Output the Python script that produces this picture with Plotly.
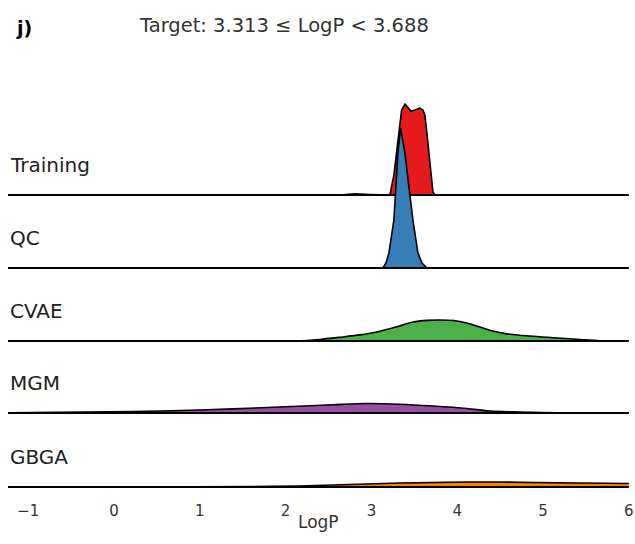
import plotly.graph_objects as go

# ---------------- data ----------------
rows = ["Training", "QC", "CVAE", "MGM", "GBGA"]
colors = ["#e41a1c", "#377eb8", "#4daf4a", "#984ea3", "#ff7f00"]

train_x = [2.633, 2.808, 2.983, 3.157, 3.216, 3.262, 3.297, 3.324, 3.352, 3.391, 3.426,
           3.461, 3.507, 3.565, 3.600, 3.623, 3.647, 3.670, 3.693, 3.717, 3.740]
train_d = [0.0, 0.045, 0.02, 0.0, 0.0, 0.75, 1.70, 2.53, 3.21, 3.43, 3.28,
           3.17, 3.21, 3.28, 3.21, 3.02, 2.34, 1.58, 0.75, 0.11, 0.0]

qc_x = [3.10, 3.134, 3.17, 3.204, 3.262, 3.286, 3.309, 3.340, 3.391, 3.437, 3.484, 3.542, 3.59, 3.647, 3.69]
qc_d = [0.0, 0.0, 0.19, 0.57, 1.81, 3.06, 4.34, 5.28, 4.34, 3.06, 1.81, 0.57, 0.19, 0.0, 0.0]

cvae_x = [2.05, 2.249, 2.40, 2.633, 2.866, 3.05, 3.297, 3.484, 3.647, 3.798, 3.961,
          4.113, 4.264, 4.416, 4.579, 4.730, 5.115, 5.429, 5.66, 5.9]
cvae_d = [0.0, 0.019, 0.057, 0.140, 0.230, 0.33, 0.540, 0.717, 0.780, 0.792, 0.774,
          0.679, 0.528, 0.377, 0.270, 0.215, 0.125, 0.057, 0.011, 0.0]

mgm_x = [-1.235, 0.221, 0.999, 1.783, 2.552, 2.948, 3.332, 3.717, 4.113, 4.381, 4.730, 5.196, 6.0]
mgm_d = [0.011, 0.057, 0.113, 0.208, 0.313, 0.358, 0.332, 0.264, 0.170, 0.075, 0.038, 0.011, 0.0]

gbga_x = [-1.235, 0.419, 1.585, 2.167, 2.552, 2.948, 3.332, 3.717, 4.113, 4.497, 4.882, 5.429, 6.0]
gbga_d = [0.0, 0.004, 0.019, 0.038, 0.075, 0.113, 0.151, 0.170, 0.189, 0.189, 0.170, 0.151, 0.132]

series_x = [train_x, qc_x, cvae_x, mgm_x, gbga_x]
series_d = [train_d, qc_d, cvae_d, mgm_d, gbga_d]
series_shape = ["linear", "linear", "spline", "spline", "spline"]

x_ticks = [-1, 0, 1, 2, 3, 4, 5, 6]
x_tick_text = ["\u22121", "0", "1", "2", "3", "4", "5", "6"]

title_text = "Target: 3.313 \u2264 LogP < 3.688"
panel_text = "<b>j)</b>"
x_title = "LogP"

# ---------------- layout constants ----------------
W, H = 635, 544
plot_l, plot_r, plot_t, plot_b = 8, 629, 60, 490
offsets = [11.019, 8.264, 5.509, 2.792, 0.0]
x_min, x_max = -1.235, 6.0
y_min, y_max = -0.1132, 16.113
font = "DejaVu Sans"


def paper(px, py):
    """picture pixel -> paper coords"""
    return (px - plot_l) / (plot_r - plot_l), (plot_b - py) / (plot_b - plot_t)


fig = go.Figure()
annotations = []
for name, col, xs, ds, off, shp in zip(rows, colors, series_x, series_d, offsets, series_shape):
    # invisible base for the fill
    fig.add_trace(go.Scatter(x=[xs[0], xs[-1]], y=[off, off], mode="lines",
                             line=dict(width=0, color=col),
                             hoverinfo="skip", showlegend=False))
    fig.add_trace(go.Scatter(x=list(xs), y=[off + d for d in ds], mode="lines",
                             fill="tonexty", fillcolor=col,
                             line=dict(color="black", width=1.6, shape=shp, smoothing=0.8),
                             hoverinfo="skip", showlegend=False))
    fig.add_trace(go.Scatter(x=[x_min, x_max], y=[off, off], mode="lines",
                             line=dict(color="black", width=2.2),
                             hoverinfo="skip", showlegend=False))
    annotations.append(dict(x=0, xref="paper", y=off + 1.13, yref="y", text=name,
                            showarrow=False, xanchor="left", yanchor="middle",
                            font=dict(family=font, size=20, color="#222")))

tx, ty = paper(284, 25)
annotations.append(dict(text=title_text, x=tx, y=ty, xref="paper", yref="paper",
                        showarrow=False, xanchor="center", yanchor="middle",
                        font=dict(family=font, size=19.5, color="#333")))
jx, jy = paper(14, 28)
annotations.append(dict(text=panel_text, x=jx, y=jy, xref="paper", yref="paper",
                        showarrow=False, xanchor="left", yanchor="middle",
                        font=dict(family=font, size=19, color="black")))
lx, ly = paper(318, 522)
annotations.append(dict(text=x_title, x=lx, y=ly, xref="paper", yref="paper",
                        showarrow=False, xanchor="center", yanchor="middle",
                        font=dict(family=font, size=17, color="#333")))

fig.update_layout(
    width=W, height=H,
    margin=dict(l=plot_l, r=W - plot_r, t=plot_t, b=H - plot_b, autoexpand=False),
    paper_bgcolor="white", plot_bgcolor="white",
    xaxis=dict(range=[x_min, x_max + 0.002], tickvals=x_ticks, ticktext=x_tick_text,
               showgrid=False, zeroline=False, showline=False, automargin=False,
               ticks="outside", ticklen=7, tickcolor="rgba(0,0,0,0)",
               tickfont=dict(family=font, size=15, color="#333")),
    yaxis=dict(range=[y_min, y_max], visible=False, showgrid=False, zeroline=False,
               automargin=False),
    annotations=annotations,
)

# remove the page's default 8px body margin so the figure sits at the window corner
fig.write_html("out.html", config={"displayModeBar": False},
               post_script="document.body.style.margin='0px';document.body.style.overflow='hidden';")
